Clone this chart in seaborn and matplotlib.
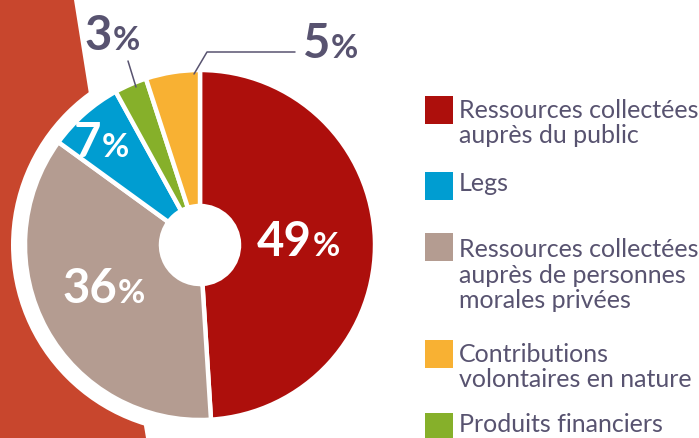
import matplotlib
matplotlib.use("Agg")
import matplotlib.pyplot as plt
import seaborn as sns
from matplotlib.patches import Circle, Polygon, Rectangle

# Data
categories = [
    "Ressources collectées\nauprès du public",
    "Ressources collectées\nauprès de personnes\nmorales privées",
    "Legs",
    "Produits financiers",
    "Contributions\nvolontaires en nature",
]
shares = [49, 36, 7, 3, 5]
colors = ["#AD0F0C", "#B49C91", "#009DD1", "#86B02A", "#F8B133"]
legend_order = [0, 2, 1, 4, 3]

W, H = 699, 438
TEXT = "#585370"
WHITE_LABELS = [True, True, True, False, False]
LINE_STEP = 28

sns.set_theme(style="white")
plt.rcParams["font.family"] = ["Lato", "DejaVu Sans"]

fig = plt.figure(figsize=(W / 100, H / 100), dpi=100)
ax = fig.add_axes([0, 0, 1, 1])


def Y(y):
    return H - y


# red-orange band on the left, partly hidden behind the pie
ax.add_patch(Polygon([(0, Y(0)), (74, Y(0)), (88, Y(88)), (146, Y(438)), (0, Y(438))],
                     closed=True, facecolor="#C8462D", edgecolor="none", zorder=0))

cx, cy, r = 200, Y(245), 175
ax.add_patch(Circle((cx, cy), 189, facecolor="white", edgecolor="none", zorder=1))

wedges, _ = ax.pie(
    shares,
    colors=sns.color_palette(colors),
    startangle=90,
    counterclock=False,
    center=(cx, cy),
    radius=r,
    wedgeprops=dict(width=r - 39, edgecolor="white", linewidth=3.2),
)
for w in wedges:
    w.set_zorder(2)

ax.set_xlim(0, W)
ax.set_ylim(0, H)
ax.set_aspect("auto")
ax.axis("off")

# percentage labels: (digits right edge, baseline)
label_pos = [(312, 256), (117, 303), (101, 157), (112, 50), (330, 58)]
for v, (x, y), inside in zip(shares, label_pos, WHITE_LABELS):
    c = "white" if inside else TEXT
    ax.text(x, Y(y), f"{v}", ha="right", va="baseline", fontsize=34,
            fontweight="bold", color=c, zorder=5)
    ax.text(x + 1, Y(y), "%", ha="left", va="baseline", fontsize=24,
            fontweight="bold", color=c, zorder=5)

# leader lines
ax.plot([128, 136], [Y(61), Y(87)], color=TEXT, lw=1.1, zorder=5)
ax.plot([194, 207, 295], [Y(74), Y(52), Y(52)], color=TEXT, lw=1.1, zorder=5)

# legend
legend_top = [96, 172, 233, 340, 413]
for idx, top in zip(legend_order, legend_top):
    label = categories[idx]
    ax.add_patch(Rectangle((425, Y(top + 28)), 28, 28, facecolor=colors[idx],
                           edgecolor="none", zorder=5))
    last_baseline = top + 19 + label.count("\n") * LINE_STEP
    ax.text(459, Y(last_baseline), label, ha="left", va="baseline",
            fontsize=18, color=TEXT, linespacing=1.13, zorder=5)

fig.savefig("out.png", dpi=100)
